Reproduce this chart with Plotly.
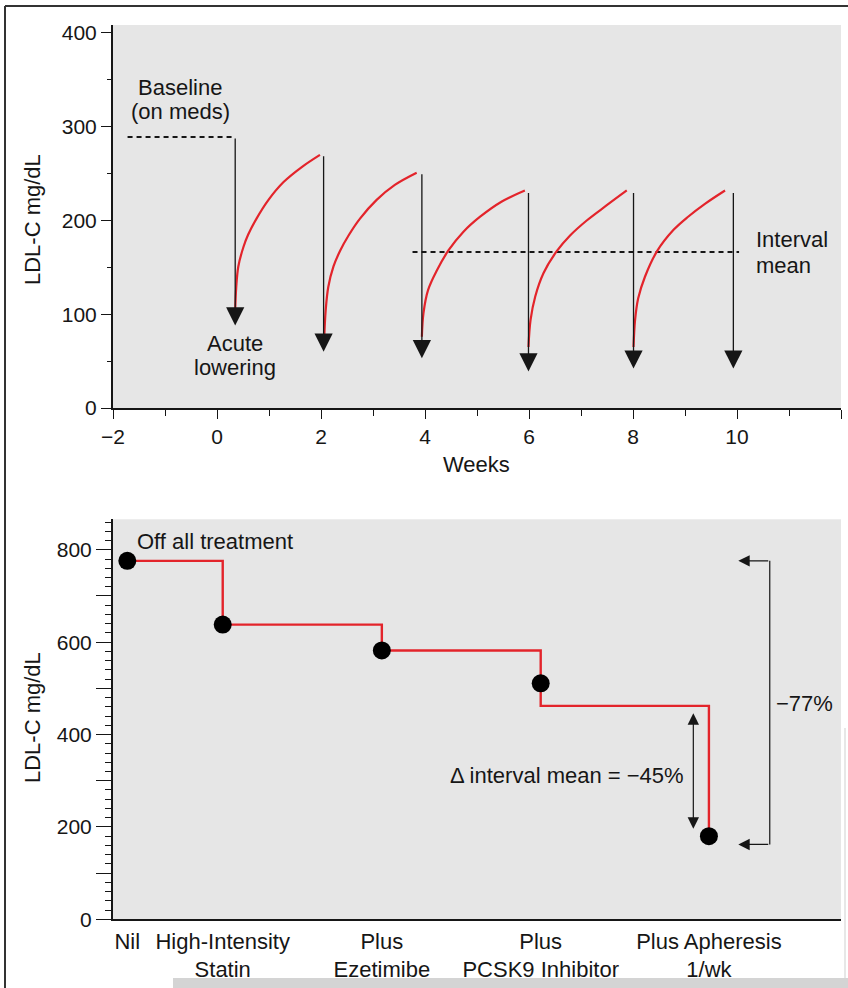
import plotly.graph_objects as go

W, H = 848, 988
FONT = "Liberation Sans, Arial, Helvetica, sans-serif"
RED = "#e3242b"
INK = "#161616"
FS = 22

# ---------------- top panel data (weeks, LDL-C mg/dL) ----------------
baseline_x = [-1.72, 0.33]
baseline_y = [289, 289]
interval_mean_x = [3.76, 10.04]
interval_mean_y = [166.5, 166.5]

curve1_x = [0.35, 0.37, 0.41, 0.51, 0.60, 0.76, 0.99, 1.28, 1.63, 1.98]
curve1_y = [104, 129, 151, 172, 185, 202, 222, 241, 257, 270]
curve2_x = [2.06, 2.09, 2.14, 2.24, 2.37, 2.53, 2.75, 3.07, 3.42, 3.84]
curve2_y = [72, 104, 129, 151, 168, 184, 202, 222, 238, 251]
curve3_x = [3.94, 3.97, 4.06, 4.23, 4.45, 4.74, 5.06, 5.47, 5.92]
curve3_y = [76, 101, 126, 147, 168, 188, 204, 220, 232]
curve4_x = [5.99, 6.03, 6.12, 6.28, 6.53, 6.79, 7.11, 7.49, 7.88]
curve4_y = [65, 94, 119, 144, 167, 184, 200, 216, 232]
curve5_x = [8.01, 8.04, 8.10, 8.23, 8.46, 8.78, 9.06, 9.39, 9.77]
curve5_y = [65, 94, 117, 140, 167, 190, 204, 218, 232]

arrow_weeks = [0.35, 2.05, 3.94, 5.99, 8.01, 9.93]
arrow_from = [289, 270, 251, 231, 231, 231]
arrow_to = [88, 60, 53, 39, 42, 42]

week_ticks = [-2, 0, 2, 4, 6, 8, 10, 12]
week_ticktext = ["\u22122", "0", "2", "4", "6", "8", "10", ""]

# ---------------- bottom panel data ----------------
cat_labels = ["Nil", "High-Intensity<br>Statin", "Plus<br>Ezetimibe",
              "Plus<br>PCSK9 Inhibitor", "Plus Apheresis<br>1/wk"]
cat_pos = [0.275, 2.11, 5.17, 8.225, 11.46]
step_ldl = [776, 638, 582, 462, 180]
point_ldl = [776, 638, 582, 511, 180]

delta_arrow = dict(x=11.16, top=446, bottom=193)
bracket = dict(x=12.63, tip_x=12.025, top=776, bottom=162)

fig = go.Figure()

# top panel traces
for xs, ys in [(baseline_x, baseline_y), (interval_mean_x, interval_mean_y)]:
    fig.add_trace(go.Scatter(x=xs, y=ys, mode="lines", xaxis="x", yaxis="y",
                             line=dict(color=INK, width=2, dash="5px,4px"),
                             hoverinfo="skip", showlegend=False))
for xs, ys in [(curve1_x, curve1_y), (curve2_x, curve2_y), (curve3_x, curve3_y),
               (curve4_x, curve4_y), (curve5_x, curve5_y)]:
    fig.add_trace(go.Scatter(x=xs, y=ys, mode="lines", xaxis="x", yaxis="y",
                             line=dict(color=RED, width=2.2, shape="spline"),
                             showlegend=False))

# bottom panel traces
fig.add_trace(go.Scatter(x=cat_pos, y=step_ldl, mode="lines", xaxis="x2", yaxis="y2",
                         line=dict(color=RED, width=2.4, shape="hv"), showlegend=False))
fig.add_trace(go.Scatter(x=cat_pos, y=point_ldl, mode="markers", xaxis="x2", yaxis="y2",
                         marker=dict(color="black", size=18), showlegend=False))

annotations = []
# drug-dose arrows
for wx, y0, y1 in zip(arrow_weeks, arrow_from, arrow_to):
    annotations.append(dict(x=wx, y=y1, ax=wx, ay=y0, xref="x", yref="y",
                            axref="x", ayref="y", text="", showarrow=True,
                            arrowhead=2, arrowsize=2.8, arrowwidth=1.3,
                            arrowcolor=INK, standoff=0))

txt = dict(font=dict(family=FONT, size=FS, color=INK), showarrow=False,
           yanchor="middle")
annotations += [
    dict(x=-0.71, y=1 - 87 / H, xref="x", yref="paper", text="Baseline",
         xanchor="center", **txt),
    dict(x=-0.71, y=1 - 111 / H, xref="x", yref="paper", text="(on meds)",
         xanchor="center", **txt),
    dict(x=0.35, y=1 - 343 / H, xref="x", yref="paper", text="Acute",
         xanchor="center", **txt),
    dict(x=0.35, y=1 - 368 / H, xref="x", yref="paper", text="lowering",
         xanchor="center", **txt),
    dict(x=10.33, y=1 - 240 / H, xref="x", yref="paper", text="Interval",
         xanchor="left", **txt),
    dict(x=10.33, y=1 - 266 / H, xref="x", yref="paper", text="mean",
         xanchor="left", **txt),
    dict(x=4.99, y=1 - 464 / H, xref="x", yref="paper", text="Weeks",
         xanchor="center", **txt),
    dict(x=32 / W, y=1 - 220 / H, xref="paper", yref="paper", text="LDL-C mg/dL",
         textangle=-90, xanchor="center", **txt),
    dict(x=32 / W, y=1 - 718 / H, xref="paper", yref="paper", text="LDL-C mg/dL",
         textangle=-90, xanchor="center", **txt),
    dict(x=0.42, y=817, xref="x2", yref="y2", text="Off all treatment",
         xanchor="left", **txt),
    dict(x=11.01, y=312, xref="x2", yref="y2", text="\u0394 interval mean = \u221245%",
         xanchor="right", **txt),
    dict(x=13.3, y=468, xref="x2", yref="y2", text="\u221277%",
         xanchor="center", **txt),
]
# delta double arrow
annotations.append(dict(x=delta_arrow["x"], y=delta_arrow["top"], ax=delta_arrow["x"],
                        ay=delta_arrow["bottom"], xref="x2", yref="y2", axref="x2",
                        ayref="y2", text="", showarrow=True, arrowhead=2,
                        startarrowhead=2, arrowside="end+start", arrowsize=1.9,
                        startarrowsize=1.9, arrowwidth=1.2, arrowcolor=INK, standoff=0))
# bracket arrows
for yy in (bracket["top"], bracket["bottom"]):
    annotations.append(dict(x=bracket["tip_x"], y=yy, ax=bracket["x"], ay=yy,
                            xref="x2", yref="y2", axref="x2", ayref="y2", text="",
                            showarrow=True, arrowhead=2, arrowsize=1.9, arrowwidth=1.2,
                            arrowcolor=INK, standoff=0))

shapes = [
    dict(type="line", xref="x2", yref="y2", x0=bracket["x"], x1=bracket["x"],
         y0=bracket["top"], y1=bracket["bottom"], line=dict(color=INK, width=1.2)),
    # outer frame of the figure
    dict(type="line", xref="paper", yref="paper", x0=5 / W, x1=5 / W, y0=0, y1=1 - 6 / H,
         line=dict(color="#333333", width=2)),
    dict(type="line", xref="paper", yref="paper", x0=5 / W, x1=1, y0=1 - 6 / H, y1=1 - 6 / H,
         line=dict(color="#333333", width=2)),
    dict(type="rect", xref="paper", yref="paper", x0=173 / W, x1=1, y0=0, y1=1 - 978 / H,
         line=dict(width=0), fillcolor="#d4d4d4", layer="below"),
    dict(type="line", xref="paper", yref="paper", x0=845 / W, x1=845 / W,
         y0=1 - 978 / H, y1=1 - 728 / H, line=dict(color="#cfcfcf", width=1),
         layer="below"),
]

tickfont = dict(family=FONT, size=21, color=INK)
xdom = [113 / W, 841 / W]
axis_common = dict(showgrid=False, zeroline=False, showline=True, linecolor=INK,
                   linewidth=2, tickcolor=INK, tickwidth=1.2, automargin=False)

fig.update_layout(
    template="none",
    width=W, height=H, margin=dict(l=0, r=0, t=0, b=0, pad=0), autosize=False,
    paper_bgcolor="white", plot_bgcolor="#e6e6e6",
    font=dict(family=FONT, size=FS, color=INK),
    showlegend=False,
    xaxis=dict(domain=xdom, anchor="y", range=[-2, 12], tickmode="array",
               tickvals=week_ticks, ticktext=week_ticktext, ticklen=9, ticks="outside",
               tickfont=tickfont,
               minor=dict(tickvals=[-1, 1, 3, 5, 7, 9, 11], ticklen=6, ticks="outside",
                          tickcolor=INK, tickwidth=1.2),
               **axis_common),
    yaxis=dict(domain=[1 - 408 / H, 1 - 25 / H], anchor="x", range=[0, 408.5],
               tickmode="array", tickvals=[0, 100, 200, 300, 400], ticklen=10,
               ticks="outside", tickfont=tickfont,
               minor=dict(tickvals=[50, 150, 250, 350], ticklen=4, ticks="outside",
                          tickcolor=INK, tickwidth=1.2),
               **axis_common),
    xaxis2=dict(domain=xdom, anchor="y2", range=[0, 14], tickmode="array",
                tickvals=cat_pos, ticktext=cat_labels, ticklen=0, ticks="",
                ticklabelstandoff=1, tickfont=dict(family=FONT, size=22, color=INK),
                **axis_common),
    yaxis2=dict(domain=[1 - 919.3 / H, 1 - 519.3 / H], anchor="x2", range=[0, 866],
                tickmode="array", tickvals=list(range(0, 801, 100)),
                ticktext=["0", "", "200", "", "400", "", "600", "", "800"], ticklen=15,
                ticks="outside", tickfont=tickfont,
                minor=dict(tickvals=[v for v in range(0, 861, 20) if v % 100],
                           ticklen=6, ticks="outside", tickcolor=INK, tickwidth=1.2),
                **axis_common),
    annotations=annotations,
    shapes=shapes,
)

fig.write_html("out.html", config={"displayModeBar": False},
               post_script="document.body.style.margin='0';document.body.style.overflow='hidden';")
